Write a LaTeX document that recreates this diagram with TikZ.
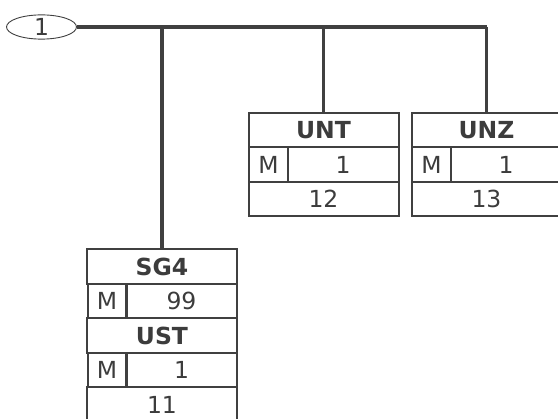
\documentclass[tikz,border=0pt]{standalone}
\usepackage{fontspec}
\setmainfont{DejaVu Sans}
\usetikzlibrary{shapes.geometric}
\definecolor{linegray}{HTML}{404040}
\definecolor{textgray}{HTML}{3C3C3C}
\tikzset{
  cell/.style={draw=linegray,line width=2pt,inner sep=0pt,text=textgray,
    font=\fontsize{23.5}{23.5}\selectfont,minimum height=34.5pt},
  namecell/.style={cell,minimum width=150pt,font=\fontsize{23.5}{23.5}\selectfont\bfseries},
  statcell/.style={cell,minimum width=39pt},
  repcell/.style={cell,minimum width=111pt},
  poscell/.style={cell,minimum width=150pt},
  branch/.style={draw=linegray,line width=3.2pt}
}
\begin{document}
\begin{tikzpicture}[x=1pt,y=-1pt]
  \useasboundingbox (0,0) rectangle (558,419);
  \node[ellipse,draw=linegray,line width=0.9pt,minimum width=70pt,minimum height=21pt,
    inner sep=0pt,text=textgray,font=\fontsize{23.5}{23.5}\selectfont] (lvl) at (41.5,27) {1};
  % UNT
  \node[namecell] (unt) at (323.5,130) {UNT};
  \node[statcell] (untm) at (268.5,164.5) {M};
  \node[repcell] (untr) at (343,164.5) {1};
  \node[poscell] (untp) at (323.5,199) {12};
  % UNZ
  \node[namecell] (unz) at (486.5,130) {UNZ};
  \node[statcell] (unzm) at (431.5,164.5) {M};
  \node[repcell] (unzr) at (506,164.5) {1};
  \node[poscell] (unzp) at (486.5,199) {13};
  % SG4 / UST
  \node[namecell] (sg) at (162,266.5) {SG4};
  \node[statcell] (sgm) at (107,301) {M};
  \node[repcell] (sgr) at (181.5,301) {99};
  \node[namecell] (ust) at (162,335.5) {UST};
  \node[statcell] (ustm) at (107,370) {M};
  \node[repcell] (ustr) at (181.5,370) {1};
  \node[poscell] (ustp) at (162,404.5) {11};
  % connectors
  \coordinate (j1) at (sg.north |- lvl.east);
  \coordinate (j2) at (unt.north |- lvl.east);
  \coordinate (j3) at (unz.north |- lvl.east);
  \draw[branch] (lvl.east) -- (j3);
  \draw[branch] (j1) -- (sg.north);
  \draw[branch] (j2) -- (unt.north);
  \draw[branch] (j3) -- (unz.north);
\end{tikzpicture}
\end{document}
